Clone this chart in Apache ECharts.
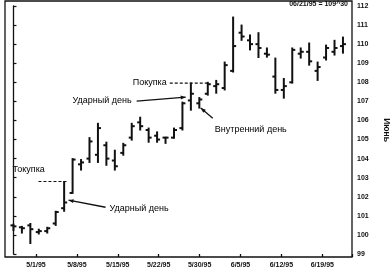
<!DOCTYPE html>
<html><head><meta charset="utf-8">
<script src="https://cdn.jsdelivr.net/npm/echarts@6/dist/echarts.min.js"></script>
<style>html,body{margin:0;padding:0;background:#fff}#c{width:392px;height:275px}</style>
</head><body><div id="c"></div>
<script>
// Trading days (bar index = position in this list)
const dates = ['4/26','4/27','4/28','5/1','5/2','5/3','5/4','5/5','5/8','5/9','5/10','5/11','5/12',
  '5/15','5/16','5/17','5/18','5/19','5/22','5/23','5/24','5/25','5/26','5/30','5/31','6/1','6/2',
  '6/5','6/6','6/7','6/8','6/9','6/12','6/13','6/14','6/15','6/16','6/19','6/20','6/21'];
const opens  = [100.5,100.4,100.5,100.15,100.2,100.6,101.4,102.2,103.7,104.0,104.2,104.7,103.9,104.3,105.1,105.9,105.5,105.2,105.1,105.1,105.6,107.05,106.9,107.4,107.8,107.7,108.6,110.6,110.2,110.0,109.5,108.3,107.6,108.0,109.5,109.6,108.6,109.3,109.6,109.9];
const highs  = [100.56,100.45,100.6,100.3,100.4,101.24,102.8,104.0,103.95,105.1,105.85,104.86,104.44,104.8,105.85,106.17,105.6,105.4,105.12,105.6,106.96,107.96,107.2,108.0,108.1,109.06,111.42,111.0,110.48,110.6,109.8,109.27,108.2,109.8,109.8,110.06,109.06,109.95,110.2,110.37];
const lows   = [100.24,100.1,99.55,100.05,100.1,100.5,101.24,102.18,103.4,103.8,103.8,103.65,103.4,104.18,104.97,105.5,104.86,104.86,104.8,105.07,105.5,106.54,106.65,107.33,107.43,107.6,108.54,110.2,109.7,109.3,109.32,107.43,107.17,107.96,109.27,108.9,108.1,109.17,109.43,109.53];
const closes = [100.45,100.35,100.3,100.2,100.35,101.2,101.7,103.95,103.8,104.9,105.6,104.0,103.6,104.7,105.7,105.7,105.1,105.0,105.1,105.5,106.9,107.4,107.1,107.9,107.9,108.9,109.9,110.4,110.0,109.8,109.45,107.6,107.8,109.7,109.6,109.1,108.8,109.8,109.8,110.0];
// Date tick labels (one per week)
const weekLabels = ['5/1/95','5/8/95','5/15/95','5/22/95','5/30/95','6/5/95','6/12/95','6/19/95'];
const headerText = '06/21/95 = 109^30';
const yName = 'Июнь';

const ohlc = dates.map((d, i) => [i, opens[i], closes[i], lows[i], highs[i]]);

const chart = echarts.init(document.getElementById('c'), null, {renderer: 'canvas'});
const FONT = 'Liberation Sans, Arial, sans-serif';
const INK = '#111';
const hiddenAxis = (gi) => ({type: 'value', gridIndex: gi, show: false, min: 0, max: 1});
const G = {containLabel: false, outerBoundsMode: 'none'};

chart.setOption({
  animation: false,
  backgroundColor: '#fff',
  grid: [
    Object.assign({left: 5, right: 40, top: 6, bottom: 21}, G),                                             // data grid
    Object.assign({left: 5, right: 40, top: 1, bottom: 18, show: true, borderColor: INK, borderWidth: 1.3}, G), // frame
    Object.assign({left: 36, right: 40, top: 1, bottom: 18}, G)                                              // date ticks
  ],
  xAxis: [
    {type: 'value', min: -1.0, max: 40.07, show: false, gridIndex: 0},
    hiddenAxis(1),
    {type: 'value', min: 0, max: 7.726, interval: 1, gridIndex: 2, position: 'bottom',
      axisLine: {show: false},
      axisTick: {show: true, inside: true, length: 3, lineStyle: {color: INK, width: 1.3}},
      splitLine: {show: false},
      axisLabel: {margin: 5, fontSize: 7, fontWeight: 'bold', color: INK, fontFamily: FONT,
        formatter: v => Math.abs(v - Math.round(v)) < 1e-6 ? (weekLabels[Math.round(v)] || '') : ''}}
  ],
  yAxis: [
    {type: 'value', min: 99, max: 112, interval: 1, position: 'right', gridIndex: 0,
      name: yName, nameLocation: 'middle', nameGap: 30, nameRotate: -90,
      nameTextStyle: {fontSize: 8.5, fontWeight: 'bold', color: INK, fontFamily: FONT},
      axisLine: {show: true, lineStyle: {color: INK, width: 1.3}},
      axisTick: {show: true, inside: false, length: 3, lineStyle: {color: INK, width: 1.2}},
      splitLine: {show: false},
      axisLabel: {margin: 5, fontSize: 7, fontWeight: 'bold', color: INK, fontFamily: FONT}},
    hiddenAxis(1),
    hiddenAxis(2)
  ],
  series: [{
    type: 'custom', xAxisIndex: 0, yAxisIndex: 0, data: ohlc,
    encode: {x: 0, y: [1, 2, 3, 4]},
    renderItem: (params, api) => {
      const x = api.value(0);
      const o = api.coord([x, api.value(1)]);
      const c = api.coord([x, api.value(2)]);
      const l = api.coord([x, api.value(3)]);
      const h = api.coord([x, api.value(4)]);
      const t = 3, st = {stroke: INK, lineWidth: 2};
      return {type: 'group', children: [
        {type: 'line', shape: {x1: h[0], y1: h[1] - 0.5, x2: l[0], y2: l[1] + 0.5}, style: st},
        {type: 'line', shape: {x1: o[0] - t, y1: o[1], x2: o[0], y2: o[1]}, style: st},
        {type: 'line', shape: {x1: c[0], y1: c[1], x2: c[0] + t, y2: c[1]}, style: st}
      ]};
    }
  }]
});

// Annotations in data coordinates (bar index, price)
const labels = [
  {text: 'Покупка', at: [18.14, 107.98], align: 'right'},
  {text: 'Ударный день', at: [14.0, 107.07], align: 'right'},
  {text: 'Внутренний день', at: [23.83, 105.54], align: 'left'},
  {text: 'Токупка', at: [-0.12, 103.44], align: 'left'},
  {text: 'Ударный день', at: [11.38, 101.4], align: 'left'}
];
const dashed = [
  {from: [18.5, highs[21]], to: [23.2, highs[21]]},
  {from: [2.96, highs[6]], to: [6.28, highs[6]]}
];
const arrows = [
  {from: [14.58, 107.01], to: [20.39, 107.22]},
  {from: [23.59, 106.12], to: [22.17, 106.65]},
  {from: [10.9, 101.45], to: [6.52, 101.82]}
];
const px = p => chart.convertToPixel({xAxisIndex: 0, yAxisIndex: 0}, p);
const g = [];
labels.forEach(a => {
  const p = px(a.at);
  g.push({type: 'text', x: p[0], y: p[1], style: {text: a.text, align: a.align, verticalAlign: 'middle',
    font: '9px ' + FONT, fill: '#000'}});
});
dashed.forEach(d => {
  const a = px(d.from), b = px(d.to);
  g.push({type: 'line', shape: {x1: a[0], y1: a[1], x2: b[0], y2: b[1]},
    style: {stroke: INK, lineWidth: 1.2, lineDash: [3, 2]}});
});
arrows.forEach(d => {
  const a = px(d.from), b = px(d.to);
  g.push({type: 'line', shape: {x1: a[0], y1: a[1], x2: b[0], y2: b[1]}, style: {stroke: INK, lineWidth: 1.3}});
  const ang = Math.atan2(b[1] - a[1], b[0] - a[0]), L = 5, W = 2;
  const bx = b[0] - L * Math.cos(ang), by = b[1] - L * Math.sin(ang);
  g.push({type: 'polygon', shape: {points: [[b[0], b[1]],
    [bx + W * Math.sin(ang), by - W * Math.cos(ang)], [bx - W * Math.sin(ang), by + W * Math.cos(ang)]]},
    style: {fill: INK}});
});
g.push({type: 'text', right: 44, top: 1, style: {text: headerText, font: 'bold 7px ' + FONT, fill: INK}});
chart.setOption({graphic: g});
</script></body></html>
